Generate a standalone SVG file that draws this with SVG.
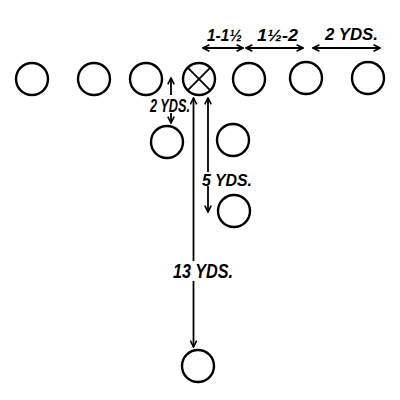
<svg xmlns="http://www.w3.org/2000/svg" width="400" height="400" viewBox="0 0 400 400">
<style>
.p{fill:none;stroke:#000;stroke-width:2.4}
.c{fill:none;stroke:#000;stroke-width:1.8}
.a{marker-end:url(#ah)}
.b{marker-start:url(#ah);marker-end:url(#ah)}
.t{font-family:"Liberation Sans",Arial,sans-serif;font-style:italic;font-weight:bold;fill:#000}
</style>
<defs>
<marker id="ah" viewBox="0 0 10 10" refX="9" refY="5" markerWidth="8" markerHeight="8" markerUnits="userSpaceOnUse" orient="auto-start-reverse">
<path d="M1,1 L9,5 L1,9" fill="none" stroke="#000" stroke-width="2"/>
</marker>
</defs>
<rect width="400" height="400" fill="#fff"/>
<g id="nodes">
<g id="n1"><circle class="p" cx="32" cy="79" r="16"/></g>
<g id="n2"><circle class="p" cx="94" cy="79" r="16"/></g>
<g id="n3"><circle class="p" cx="146" cy="79" r="16"/></g>
<g id="center"><circle class="p" cx="199" cy="79" r="16"/><path class="c" d="M187.7,67.7 L210.3,90.3 M210.3,67.7 L187.7,90.3"/></g>
<g id="n5"><circle class="p" cx="249" cy="79" r="16"/></g>
<g id="n6"><circle class="p" cx="306" cy="78" r="16"/></g>
<g id="n7"><circle class="p" cx="368" cy="78" r="16"/></g>
<g id="b1"><circle class="p" cx="167" cy="142" r="16"/></g>
<g id="b2"><circle class="p" cx="233" cy="140" r="16"/></g>
<g id="b3"><circle class="p" cx="234" cy="211" r="16"/></g>
<g id="b4"><circle class="p" cx="198" cy="366" r="16"/></g>
</g>
<g id="connectors">
<line class="c b" x1="203" y1="48" x2="243" y2="48"/>
<line class="c b" x1="246" y1="48" x2="303" y2="48"/>
<line class="c b" x1="313" y1="48" x2="380" y2="48"/>
<line class="c a" x1="171" y1="95" x2="171" y2="78"/>
<line class="c a" x1="171" y1="113" x2="171" y2="123"/>
<line class="c a" x1="208" y1="172" x2="208" y2="98"/>
<line class="c a" x1="208" y1="186" x2="208" y2="212"/>
<line class="c a" x1="193.5" y1="261" x2="193.5" y2="98"/>
<line class="c a" x1="193.5" y1="281" x2="193.5" y2="347"/>
</g>
<g id="labels">
<text class="t" x="207" y="41" font-size="17" textLength="35" lengthAdjust="spacingAndGlyphs">1-1½</text>
<text class="t" x="257" y="41" font-size="17" textLength="41" lengthAdjust="spacingAndGlyphs">1½-2</text>
<text class="t" x="325" y="40" font-size="17" textLength="53" lengthAdjust="spacingAndGlyphs">2 YDS.</text>
<text class="t" x="150" y="112" font-size="18" textLength="40" lengthAdjust="spacingAndGlyphs">2 YDS.</text>
<text class="t" x="202" y="186" font-size="17" textLength="50" lengthAdjust="spacingAndGlyphs">5 YDS.</text>
<text class="t" x="173" y="278" font-size="20" textLength="60" lengthAdjust="spacingAndGlyphs">13 YDS.</text>
</g>
</svg>
